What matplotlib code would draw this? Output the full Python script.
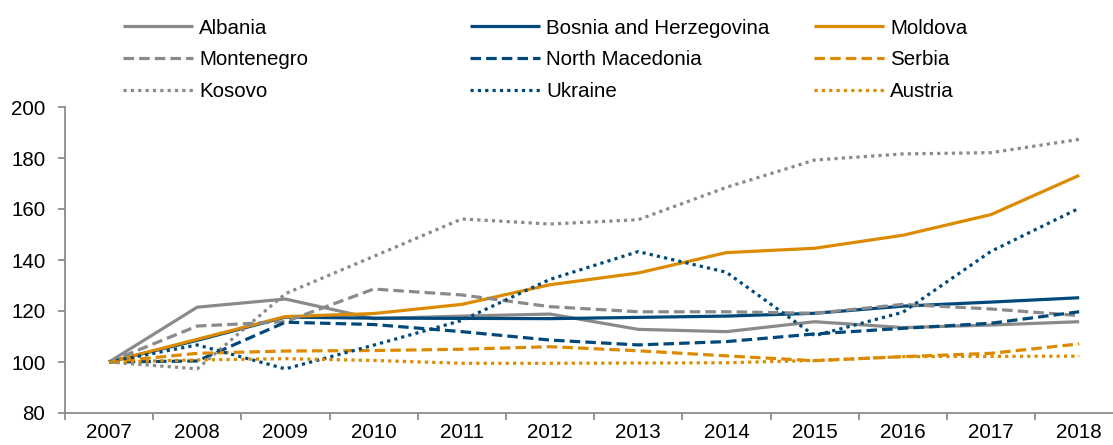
import matplotlib
matplotlib.use("Agg")
import matplotlib.pyplot as plt

plt.rcParams['font.family'] = ['Liberation Sans', 'DejaVu Sans']

years = [2007, 2008, 2009, 2010, 2011, 2012, 2013, 2014, 2015, 2016, 2017, 2018]

albania = [100, 121.5, 124.7, 117.0, 118.0, 118.8, 112.8, 111.9, 115.8, 113.5, 114.5, 115.8]
bosnia = [100, 108.5, 117.6, 117.2, 117.1, 117.0, 117.5, 118.0, 119.1, 121.9, 123.5, 125.2]
moldova = [100, 108.9, 117.8, 119.0, 122.6, 130.3, 134.9, 142.9, 144.6, 149.7, 157.8, 173.2]
montenegro = [100, 114.1, 115.8, 128.6, 126.3, 121.7, 119.7, 119.7, 119.1, 122.6, 120.8, 118.2]
north_macedonia = [100, 100.4, 115.6, 114.7, 111.9, 108.6, 106.7, 108.0, 111.0, 113.2, 115.2, 119.7]
serbia = [100, 103.4, 104.3, 104.5, 105.0, 106.0, 104.4, 102.4, 100.5, 102.1, 103.4, 107.1]
kosovo = [100, 97.3, 126.8, 141.4, 156.1, 154.1, 155.8, 168.5, 179.2, 181.6, 182.1, 187.3]
ukraine = [100, 106.7, 97.3, 106.6, 116.3, 132.4, 143.3, 135.2, 110.3, 119.5, 143.4, 160.3]
austria = [100, 100.8, 101.3, 100.6, 99.5, 99.5, 99.6, 99.7, 100.6, 102.1, 102.2, 102.3]

labels = ["Albania", "Bosnia and Herzegovina", "Moldova",
          "Montenegro", "North Macedonia", "Serbia",
          "Kosovo", "Ukraine", "Austria"]
series = [albania, bosnia, moldova, montenegro, north_macedonia, serbia,
          kosovo, ukraine, austria]

GRAY = '#8a8a8a'
BLUE = '#00497a'
ORANGE = '#dc8a00'
colors = [GRAY, BLUE, ORANGE] * 3
solid = '-'
dashed = (0, (3.3, 1.6))
dotted = (0, (1, 1.3))
styles = [solid] * 3 + [dashed] * 3 + [dotted] * 3
LW = 2.3
FS = 14.8

fig = plt.figure(figsize=(11.13, 4.45), dpi=100)
ax = fig.add_axes([64.9 / 1113, 1 - 413 / 445, 1058.4 / 1113, 306 / 445])

x = list(range(len(years)))
handles = []
for s, c, ls, lab in zip(series, colors, styles, labels):
    h, = ax.plot(x, s, color=c, linestyle=ls, linewidth=LW, label=lab,
                 solid_capstyle='butt', dash_capstyle='butt')
    handles.append(h)

ax.set_xlim(-0.5, len(years) - 0.5)
ax.set_ylim(80, 200)
ax.set_yticks([80, 100, 120, 140, 160, 180, 200])
ax.set_xticks(x)
ax.set_xticklabels([str(y) for y in years])
ax.set_xticks([i - 0.5 for i in range(len(years) + 1)], minor=True)
ax.tick_params(axis='x', which='major', length=0, labelsize=FS, pad=7)
ax.tick_params(axis='x', which='minor', length=5, width=1.3, color='#8c8c8c')
ax.tick_params(axis='y', which='major', length=5, width=1.3, color='#8c8c8c',
               labelsize=FS, pad=9)
for sp in ['top', 'right']:
    ax.spines[sp].set_visible(False)
for sp in ['left', 'bottom']:
    ax.spines[sp].set_color('#8c8c8c')
    ax.spines[sp].set_linewidth(1.3)

# legend: three columns positioned separately
col_x = [123 / 1113, 470 / 1113, 814 / 1113]
for ci in range(3):
    hs = [handles[ci], handles[ci + 3], handles[ci + 6]]
    ls_ = [labels[ci], labels[ci + 3], labels[ci + 6]]
    fig.legend(hs, ls_, loc='upper left', bbox_to_anchor=(col_x[ci], 1 - 18.5 / 445),
               frameon=False, borderpad=0, borderaxespad=0, handlelength=3.4,
               handletextpad=0.3, labelspacing=0.62, fontsize=FS)

fig.savefig('out.png', dpi=100)
